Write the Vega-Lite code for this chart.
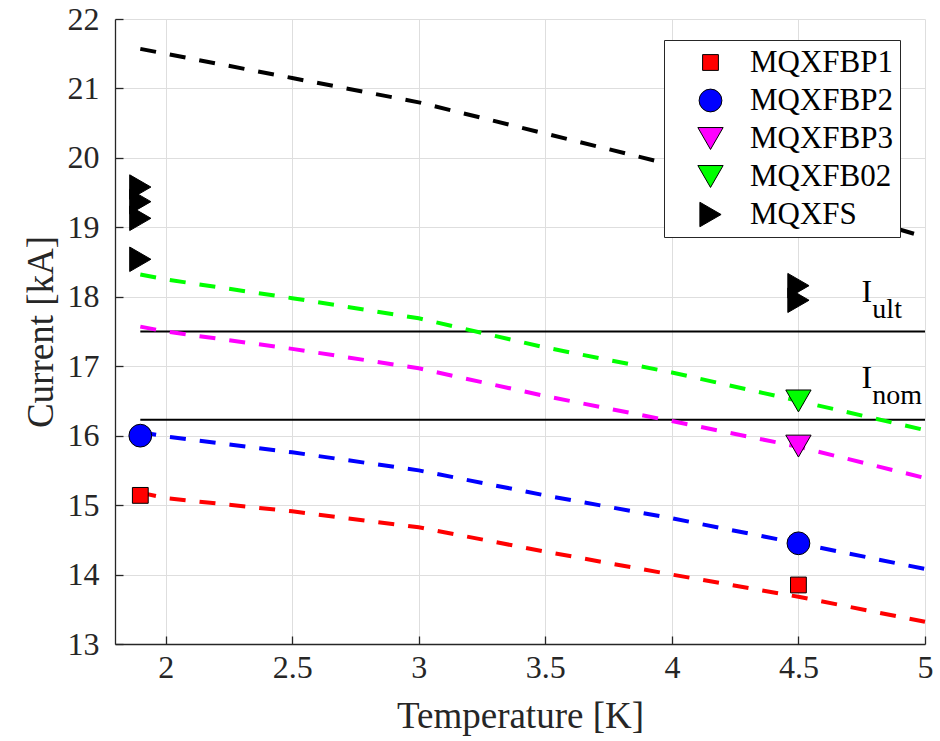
{
  "$schema": "https://vega.github.io/schema/vega-lite/v6.json",
  "width": 810,
  "height": 625,
  "autosize": {"type": "none"},
  "padding": {"left": 115, "top": 19, "right": 15, "bottom": 97},
  "background": "white",
  "config": {
    "view": {"stroke": null},
    "font": "Liberation Serif",
    "axis": {
      "labelFont": "Liberation Serif",
      "titleFont": "Liberation Serif",
      "labelFontSize": 32,
      "titleFontSize": 37,
      "titleFontWeight": "normal",
      "labelColor": "#262626",
      "titleColor": "#262626",
      "domainColor": "#262626",
      "domainWidth": 1.3,
      "tickColor": "#262626",
      "tickWidth": 1.3,
      "tickSize": -8,
      "gridColor": "#dedede",
      "gridWidth": 1,
      "labelFlush": false,
      "labelOverlap": false
    },
    "legend": {
      "labelFont": "Liberation Serif",
      "labelFontSize": 31,
      "labelColor": "#000000"
    }
  },
  "datasets": {
    "curves": [
      {"curve": "MQXFBP1", "T": 1.9, "I": 15.18},
      {"curve": "MQXFBP1", "T": 2.0, "I": 15.1},
      {"curve": "MQXFBP1", "T": 2.5, "I": 14.91},
      {"curve": "MQXFBP1", "T": 3.0, "I": 14.68},
      {"curve": "MQXFBP1", "T": 3.5, "I": 14.33},
      {"curve": "MQXFBP1", "T": 4.0, "I": 14.0},
      {"curve": "MQXFBP1", "T": 4.5, "I": 13.68},
      {"curve": "MQXFBP1", "T": 5.0, "I": 13.32},
      {"curve": "MQXFBP2", "T": 1.9, "I": 16.05},
      {"curve": "MQXFBP2", "T": 2.0, "I": 15.99},
      {"curve": "MQXFBP2", "T": 2.5, "I": 15.76},
      {"curve": "MQXFBP2", "T": 3.0, "I": 15.5},
      {"curve": "MQXFBP2", "T": 3.5, "I": 15.14},
      {"curve": "MQXFBP2", "T": 4.0, "I": 14.81},
      {"curve": "MQXFBP2", "T": 4.5, "I": 14.45},
      {"curve": "MQXFBP2", "T": 5.0, "I": 14.08},
      {"curve": "MQXFBP3", "T": 1.9, "I": 17.57},
      {"curve": "MQXFBP3", "T": 2.0, "I": 17.5},
      {"curve": "MQXFBP3", "T": 2.5, "I": 17.25},
      {"curve": "MQXFBP3", "T": 3.0, "I": 16.97},
      {"curve": "MQXFBP3", "T": 3.5, "I": 16.57},
      {"curve": "MQXFBP3", "T": 4.0, "I": 16.21},
      {"curve": "MQXFBP3", "T": 4.5, "I": 15.84},
      {"curve": "MQXFBP3", "T": 5.0, "I": 15.39},
      {"curve": "MQXFB02", "T": 1.9, "I": 18.32},
      {"curve": "MQXFB02", "T": 2.0, "I": 18.25},
      {"curve": "MQXFB02", "T": 2.5, "I": 17.98},
      {"curve": "MQXFB02", "T": 3.0, "I": 17.69},
      {"curve": "MQXFB02", "T": 3.5, "I": 17.27},
      {"curve": "MQXFB02", "T": 4.0, "I": 16.91},
      {"curve": "MQXFB02", "T": 4.5, "I": 16.5},
      {"curve": "MQXFB02", "T": 5.0, "I": 16.08},
      {"curve": "MQXFS", "T": 1.9, "I": 21.57},
      {"curve": "MQXFS", "T": 2.0, "I": 21.5},
      {"curve": "MQXFS", "T": 2.5, "I": 21.15},
      {"curve": "MQXFS", "T": 3.0, "I": 20.8},
      {"curve": "MQXFS", "T": 3.5, "I": 20.35},
      {"curve": "MQXFS", "T": 4.0, "I": 19.9},
      {"curve": "MQXFS", "T": 4.5, "I": 19.4},
      {"curve": "MQXFS", "T": 5.0, "I": 18.86}
    ],
    "points": [
      {"series": "MQXFBP1", "T": 1.9, "I": 15.14},
      {"series": "MQXFBP1", "T": 4.5, "I": 13.85},
      {"series": "MQXFBP2", "T": 1.9, "I": 16.0},
      {"series": "MQXFBP2", "T": 4.5, "I": 14.45},
      {"series": "MQXFBP3", "T": 4.5, "I": 15.85},
      {"series": "MQXFB02", "T": 4.5, "I": 16.5},
      {"series": "MQXFS", "T": 1.9, "I": 19.58},
      {"series": "MQXFS", "T": 1.9, "I": 19.37},
      {"series": "MQXFS", "T": 1.9, "I": 19.13},
      {"series": "MQXFS", "T": 1.9, "I": 18.54},
      {"series": "MQXFS", "T": 4.5, "I": 18.16},
      {"series": "MQXFS", "T": 4.5, "I": 17.95}
    ],
    "limits": [
      {"name": "ult", "T1": 1.9, "T2": 5.0, "I": 17.5},
      {"name": "nom", "T1": 1.9, "T2": 5.0, "I": 16.23}
    ],
    "mainLabels": [
      {"t": "I", "T": 4.749, "I": 17.92},
      {"t": "I", "T": 4.749, "I": 16.68}
    ],
    "subLabels": [
      {"t": "ult", "T": 4.792, "I": 17.69},
      {"t": "nom", "T": 4.792, "I": 16.45}
    ]
  },
  "layer": [
    {
      "data": {"name": "limits"},
      "mark": {"type": "rule", "color": "#000000", "strokeWidth": 2},
      "encoding": {
        "x": {
          "field": "T1", "type": "quantitative",
          "scale": {"domain": [1.8, 5], "nice": false, "zero": false},
          "axis": {
            "title": "Temperature [K]",
            "values": [2, 2.5, 3, 3.5, 4, 4.5, 5],
            "format": "~g",
            "labelFont": "Liberation Serif",
            "labelPadding": 16,
            "titlePadding": 15
          }
        },
        "x2": {"field": "T2"},
        "y": {
          "field": "I", "type": "quantitative",
          "scale": {"domain": [13, 22], "nice": false, "zero": false},
          "axis": {
            "title": "Current [kA]",
            "values": [13, 14, 15, 16, 17, 18, 19, 20, 21, 22],
            "format": "d",
            "labelFont": "Liberation Serif",
            "labelPadding": 24,
            "titlePadding": 7
          }
        }
      }
    },
    {
      "data": {"name": "curves"},
      "mark": {"type": "line", "strokeWidth": 4, "strokeDash": [16, 14]},
      "encoding": {
        "x": {"field": "T", "type": "quantitative"},
        "y": {"field": "I", "type": "quantitative"},
        "stroke": {
          "field": "curve", "type": "nominal",
          "scale": {
            "domain": ["MQXFS", "MQXFB02", "MQXFBP3", "MQXFBP2", "MQXFBP1"],
            "range": ["#000000", "#00ff00", "#ff00ff", "#0000ff", "#ff0000"]
          },
          "legend": null
        }
      }
    },
    {
      "data": {"name": "points"},
      "mark": {"type": "point", "filled": true, "stroke": "#000000", "strokeWidth": 1, "opacity": 1},
      "encoding": {
        "x": {"field": "T", "type": "quantitative"},
        "y": {"field": "I", "type": "quantitative"},
        "fill": {
          "field": "series", "type": "nominal",
          "scale": {
            "domain": ["MQXFBP1", "MQXFBP2", "MQXFBP3", "MQXFB02", "MQXFS"],
            "range": ["#ff0000", "#0000ff", "#ff00ff", "#00ff00", "#000000"]
          },
          "legend": {
            "title": null,
            "orient": "none",
            "legendX": 549,
            "legendY": 21,
            "padding": 7,
            "fillColor": "#ffffff",
            "strokeColor": "#262626",
            "rowPadding": 6,
            "symbolOffset": 24,
            "labelOffset": 24,
            "symbolStrokeColor": "#000000",
            "symbolStrokeWidth": 1
          }
        },
        "shape": {
          "field": "series", "type": "nominal",
          "scale": {
            "domain": ["MQXFBP1", "MQXFBP2", "MQXFBP3", "MQXFB02", "MQXFS"],
            "range": ["square", "circle", "triangle-down", "triangle-down", "triangle-right"]
          }
        },
        "size": {
          "field": "series", "type": "nominal",
          "scale": {
            "type": "ordinal",
            "domain": ["MQXFBP1", "MQXFBP2", "MQXFBP3", "MQXFB02", "MQXFS"],
            "range": [250, 520, 640, 640, 600]
          }
        }
      }
    },
    {
      "data": {"name": "mainLabels"},
      "mark": {"type": "text", "fontSize": 32, "font": "Liberation Serif", "align": "left", "baseline": "alphabetic", "color": "#000000"},
      "encoding": {
        "x": {"field": "T", "type": "quantitative"},
        "y": {"field": "I", "type": "quantitative"},
        "text": {"field": "t"}
      }
    },
    {
      "data": {"name": "subLabels"},
      "mark": {"type": "text", "fontSize": 28, "font": "Liberation Serif", "align": "left", "baseline": "alphabetic", "color": "#000000"},
      "encoding": {
        "x": {"field": "T", "type": "quantitative"},
        "y": {"field": "I", "type": "quantitative"},
        "text": {"field": "t"}
      }
    }
  ]
}
